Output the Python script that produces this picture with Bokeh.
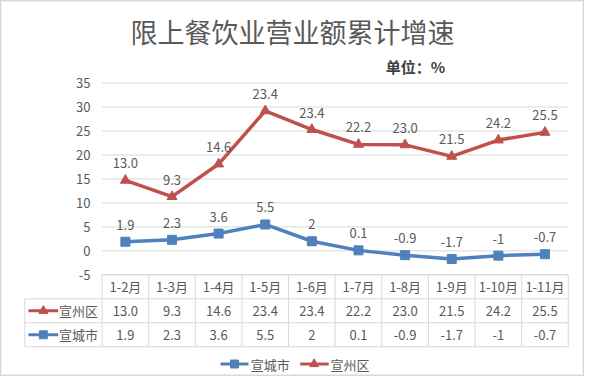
from bokeh.plotting import figure
from bokeh.models import Range1d
from bokeh.core.properties import value
from bokeh.embed import file_html
from bokeh.resources import INLINE

# ---------------- data ----------------
title_text = "限上餐饮业营业额累计增速"
unit_text = "单位：%"
categories = ["1-2月", "1-3月", "1-4月", "1-5月", "1-6月", "1-7月", "1-8月", "1-9月", "1-10月", "1-11月"]
series_names = ["宣城市", "宣州区"]
# 宣州区: values written on the chart (labels / table) and the positions where the line is drawn
xuanzhou_labels = [13.0, 9.3, 14.6, 23.4, 23.4, 22.2, 23.0, 21.5, 24.2, 25.5]
xuanzhou_plotted = [14.7, 11.3, 18.1, 29.2, 25.3, 22.2, 22.1, 19.7, 23.1, 24.7]
# 宣城市
xuancheng_values = [1.9, 2.3, 3.6, 5.5, 2, 0.1, -0.9, -1.7, -1, -0.7]
y_ticks = [-5, 0, 5, 10, 15, 20, 25, 30, 35]

# ---------------- style ----------------
RED = "#C0504D"
BLUE = "#4F81BD"
GRID = "#d9d9d9"
TXT = "#595959"
FONT = value("Noto Sans CJK SC")
FS = "13px"

n = len(categories)
xs = list(range(n))
xz_text = [f"{v:.1f}" for v in xuanzhou_labels]
xc_text = [f"{v:g}" for v in xuancheng_values]

p = figure(width=584, height=376,
           x_range=Range1d(-2.679, 9.848), y_range=Range1d(-26.2, 52.2),
           output_backend="svg", toolbar_location=None,
           x_axis_location=None, y_axis_location=None, min_border=0)
p.grid.visible = False
p.outline_line_color = GRID
p.outline_line_width = 2
p.background_fill_color = "white"
p.border_fill_color = "white"

left_edge = -2.157
x0, x1 = -0.5, n - 0.5

# gridlines
p.segment(x0=[x0] * len(y_ticks), x1=[x1] * len(y_ticks), y0=y_ticks, y1=y_ticks,
          line_color=GRID, line_width=1)

# y tick labels
p.text(x=[-0.75] * len(y_ticks), y=y_ticks, text=[str(t) for t in y_ticks],
       text_align="right", text_baseline="middle", text_font=FONT,
       text_font_size=FS, text_color=TXT)

# data table
row_lines = [-5, -10, -15, -20]
p.segment(x0=[x0] + [left_edge] * 3, x1=[x1] * 4, y0=row_lines, y1=row_lines,
          line_color=GRID, line_width=1)
vx = [i - 0.5 for i in range(n + 1)]
p.segment(x0=vx, x1=vx, y0=[-5] * len(vx), y1=[-20] * len(vx), line_color=GRID, line_width=1)
p.segment(x0=[left_edge], x1=[left_edge], y0=[-10], y1=[-20], line_color=GRID, line_width=1)

p.text(x=xs, y=[-7.5] * n, text=categories, text_align="center", text_baseline="middle",
       text_font=FONT, text_font_size=FS, text_color=TXT)
p.text(x=xs, y=[-12.5] * n, text=xz_text, text_align="center", text_baseline="middle",
       text_font=FONT, text_font_size=FS, text_color=TXT)
p.text(x=xs, y=[-17.5] * n, text=xc_text, text_align="center", text_baseline="middle",
       text_font=FONT, text_font_size=FS, text_color=TXT)

# legend keys inside table
p.segment(x0=[-2.08], x1=[-1.44], y0=[-12.5], y1=[-12.5], line_color=RED, line_width=3)
p.scatter(x=[-1.76], y=[-12.5], marker="triangle", size=9, color=RED)
p.text(x=[-1.426], y=[-12.5], text=[series_names[1]], text_align="left", text_baseline="middle",
       text_font=FONT, text_font_size=FS, text_color=TXT)
p.segment(x0=[-2.08], x1=[-1.44], y0=[-17.5], y1=[-17.5], line_color=BLUE, line_width=3)
p.scatter(x=[-1.76], y=[-17.5], marker="square", size=8, color=BLUE)
p.text(x=[-1.426], y=[-17.5], text=[series_names[0]], text_align="left", text_baseline="middle",
       text_font=FONT, text_font_size=FS, text_color=TXT)

# series lines
p.line(xs, xuanzhou_plotted, line_color=RED, line_width=3.5)
p.scatter(xs, xuanzhou_plotted, marker="triangle", size=10, color=RED)
p.line(xs, xuancheng_values, line_color=BLUE, line_width=3.5)
p.scatter(xs, xuancheng_values, marker="square", size=9, color=BLUE)

# data labels
p.text(x=xs, y=xuanzhou_plotted, text=xz_text, y_offset=-17, text_align="center",
       text_baseline="middle", text_font=FONT, text_font_size=FS, text_color=TXT)
p.text(x=xs, y=xuancheng_values, text=xc_text, y_offset=-17, text_align="center",
       text_baseline="middle", text_font=FONT, text_font_size=FS, text_color=TXT)

# bottom legend
ly = -23.6
p.segment(x0=[2.04], x1=[2.64], y0=[ly], y1=[ly], line_color=BLUE, line_width=3)
p.scatter(x=[2.34], y=[ly], marker="square", size=8, color=BLUE)
p.text(x=[2.69], y=[ly], text=[series_names[0]], text_align="left", text_baseline="middle",
       text_font=FONT, text_font_size=FS, text_color=TXT)
p.segment(x0=[3.75], x1=[4.36], y0=[ly], y1=[ly], line_color=RED, line_width=3)
p.scatter(x=[4.05], y=[ly], marker="triangle", size=9, color=RED)
p.text(x=[4.40], y=[ly], text=[series_names[1]], text_align="left", text_baseline="middle",
       text_font=FONT, text_font_size=FS, text_color=TXT)

# title and unit
p.text(x=[3.585], y=[45.7], text=[title_text], text_align="center", text_baseline="middle",
       text_font=FONT, text_font_size="27px", text_color=TXT)
p.text(x=[6.86], y=[38.4], text=[unit_text], text_align="right", text_baseline="middle",
       text_font=FONT, text_font_size="15px", text_color="#404040", text_font_style="bold")

open("out.html", "w").write(file_html(p, INLINE))
